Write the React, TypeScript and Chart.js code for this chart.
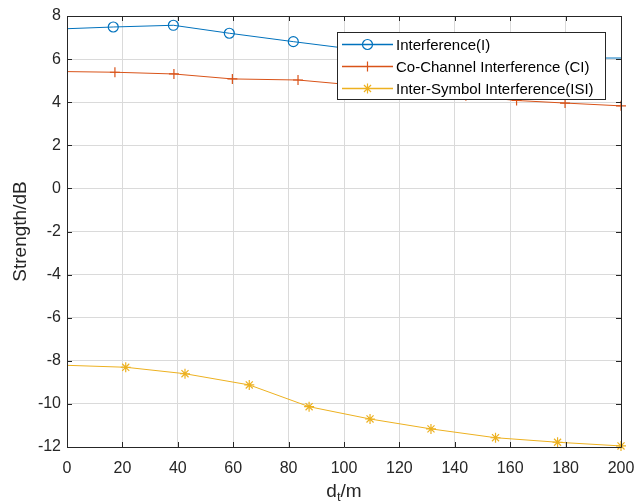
import React, { useEffect, useRef } from "react";
import { Chart, registerables } from "chart.js";

Chart.register(...registerables);

// ---- data ----
const interferenceX = [0, 16.7, 38.4, 58.6, 81.7, 104, 127, 150, 173, 200];
const interferenceY = [7.41, 7.49, 7.57, 7.2, 6.81, 6.45, 6.22, 6.1, 6.05, 6.05];

const coChannelX = [0, 17.3, 38.6, 59.7, 83.4, 105, 125, 144, 162.3, 179.8, 200];
const coChannelY = [5.42, 5.39, 5.31, 5.08, 5.03, 4.78, 4.55, 4.3, 4.08, 3.96, 3.83];

const isiX = [0, 21.2, 42.6, 65.8, 87.4, 109.4, 131.4, 154.7, 177.1, 200];
const isiY = [-8.21, -8.3, -8.6, -9.12, -10.13, -10.7, -11.16, -11.57, -11.78, -11.95];

const seriesNames = [
  "Interference(I)",
  "Co-Channel Interference (CI)",
  "Inter-Symbol Interference(ISI)",
];
const xTickValues = [0, 20, 40, 60, 80, 100, 120, 140, 160, 180, 200];
const yTickValues = [-12, -10, -8, -6, -4, -2, 0, 2, 4, 6, 8];
const yAxisTitle = "Strength/dB";
const xAxisTitleMain = "d";
const xAxisTitleSub = "t";
const xAxisTitleRest = "/m";

const COLORS = ["#0072BD", "#D95319", "#EDB120"];
const STYLES = ["circle", "cross", "star"];
const AXIS = "#262626";
const FONT = "'Liberation Sans', Arial, sans-serif";

function zip(xs: number[], ys: number[]) {
  return xs.map((x, i) => ({ x, y: ys[i] }));
}

function drawMarker(ctx: CanvasRenderingContext2D, style: string, x: number, y: number, r: number, color: string) {
  ctx.save();
  ctx.strokeStyle = color;
  ctx.lineWidth = 1.2;
  ctx.beginPath();
  if (style === "circle") {
    ctx.arc(x, y, r, 0, Math.PI * 2);
  } else if (style === "cross") {
    ctx.moveTo(x - r, y);
    ctx.lineTo(x + r, y);
    ctx.moveTo(x, y - r);
    ctx.lineTo(x, y + r);
  } else {
    ctx.moveTo(x - r, y);
    ctx.lineTo(x + r, y);
    ctx.moveTo(x, y - r);
    ctx.lineTo(x, y + r);
    const d = r * Math.SQRT1_2;
    ctx.moveTo(x - d, y - d);
    ctx.lineTo(x + d, y + d);
    ctx.moveTo(x - d, y + d);
    ctx.lineTo(x + d, y - d);
  }
  ctx.stroke();
  ctx.restore();
}

const framePlugin = {
  id: "matlabFrame",
  afterDatasetsDraw(chart: any) {
    const { ctx, chartArea } = chart;
    const { left, right, top, bottom } = chartArea;
    const xs = chart.scales.x;
    const ys = chart.scales.y;
    ctx.save();
    ctx.strokeStyle = AXIS;
    ctx.lineWidth = 1;
    ctx.beginPath();
    ctx.rect(Math.round(left) + 0.5, Math.round(top) + 0.5, Math.round(right - left), Math.round(bottom - top));
    ctx.stroke();
    const tl = 5;
    ctx.beginPath();
    xTickValues.forEach((v) => {
      const px = Math.round(xs.getPixelForValue(v)) + 0.5;
      ctx.moveTo(px, bottom);
      ctx.lineTo(px, bottom - tl);
      ctx.moveTo(px, top);
      ctx.lineTo(px, top + tl);
    });
    yTickValues.forEach((v) => {
      const py = Math.round(ys.getPixelForValue(v)) + 0.5;
      ctx.moveTo(left, py);
      ctx.lineTo(left + tl, py);
      ctx.moveTo(right, py);
      ctx.lineTo(right - tl, py);
    });
    ctx.stroke();
    ctx.restore();
  },
};

const legendTitlesPlugin = {
  id: "matlabLegendTitles",
  afterDraw(chart: any) {
    const { ctx, chartArea } = chart;
    ctx.save();
    // legend box
    const bx = 337.5, by = 32.5, bw = 268, bh = 67;
    ctx.fillStyle = "#ffffff";
    ctx.fillRect(bx, by, bw, bh);
    ctx.strokeStyle = AXIS;
    ctx.lineWidth = 1;
    ctx.strokeRect(bx, by, bw, bh);
    ctx.font = `15px ${FONT}`;
    ctx.textBaseline = "middle";
    ctx.textAlign = "left";
    seriesNames.forEach((name, i) => {
      const cy = 44.5 + i * 22;
      ctx.strokeStyle = COLORS[i];
      ctx.lineWidth = 1.5;
      ctx.beginPath();
      ctx.moveTo(342, cy);
      ctx.lineTo(393, cy);
      ctx.stroke();
      drawMarker(ctx, STYLES[i], 367.5, cy, 5, COLORS[i]);
      ctx.fillStyle = "#000000";
      ctx.fillText(name, 396, cy + 1);
    });

    // axis titles
    ctx.fillStyle = AXIS;
    ctx.font = `19px ${FONT}`;
    ctx.textAlign = "center";
    ctx.textBaseline = "middle";
    ctx.save();
    ctx.translate(21, (chartArea.top + chartArea.bottom) / 2);
    ctx.rotate(-Math.PI / 2);
    ctx.fillText(yAxisTitle, 0, 0);
    ctx.restore();

    const cx = (chartArea.left + chartArea.right) / 2;
    const baseY = 497;
    ctx.textBaseline = "alphabetic";
    ctx.textAlign = "left";
    ctx.font = `19px ${FONT}`;
    const wMain = ctx.measureText(xAxisTitleMain).width;
    const wRest = ctx.measureText(xAxisTitleRest).width;
    ctx.font = `13px ${FONT}`;
    const wSub = ctx.measureText(xAxisTitleSub).width;
    const total = wMain + wSub + wRest;
    let x0 = cx - total / 2;
    ctx.font = `19px ${FONT}`;
    ctx.fillText(xAxisTitleMain, x0, baseY);
    x0 += wMain;
    ctx.font = `13px ${FONT}`;
    ctx.fillText(xAxisTitleSub, x0, baseY + 4);
    x0 += wSub;
    ctx.font = `19px ${FONT}`;
    ctx.fillText(xAxisTitleRest, x0, baseY);
    ctx.restore();
  },
};

export default function App() {
  const canvasRef = useRef<HTMLCanvasElement | null>(null);

  useEffect(() => {
    const canvas = canvasRef.current;
    if (!canvas) return;
    const mk = (label: string, xs: number[], ys: number[], i: number, hideLast: boolean) => ({
      label,
      data: zip(xs, ys),
      borderColor: COLORS[i],
      backgroundColor: "rgba(0,0,0,0)",
      borderWidth: 1,
      pointStyle: STYLES[i],
      pointBorderColor: COLORS[i],
      pointBackgroundColor: "rgba(0,0,0,0)",
      pointBorderWidth: 1.2,
      pointRadius: (c: any) =>
        c.dataIndex === 0 || (hideLast && c.dataIndex === xs.length - 1) ? 0 : 5,
      pointHoverRadius: 0,
      tension: 0,
      fill: false,
      clip: false,
    });

    const chart = new Chart(canvas, {
      type: "line",
      data: {
        datasets: [
          mk(seriesNames[0], interferenceX, interferenceY, 0, true),
          mk(seriesNames[1], coChannelX, coChannelY, 1, false),
          mk(seriesNames[2], isiX, isiY, 2, false),
        ] as any,
      },
      options: {
        responsive: false,
        animation: false,
        events: [],
        layout: { padding: { top: 16, right: 16, left: 0, bottom: 0 } },
        plugins: {
          legend: { display: false },
          tooltip: { enabled: false },
          title: { display: false },
        },
        scales: {
          x: {
            type: "linear",
            min: 0,
            max: 200,
            afterBuildTicks: (s: any) => {
              s.ticks = xTickValues.map((v) => ({ value: v }));
            },
            afterFit: (s: any) => {
              s.height = 57;
              s.paddingLeft = 0;
              s.paddingRight = 0;
            },
            grid: { color: "#dadada", lineWidth: 1, drawTicks: false },
            border: { display: false },
            ticks: {
              color: AXIS,
              font: { family: FONT, size: 16 },
              padding: 12,
              maxRotation: 0,
              autoSkip: false,
            },
          },
          y: {
            type: "linear",
            min: -12,
            max: 8,
            afterBuildTicks: (s: any) => {
              s.ticks = yTickValues.map((v) => ({ value: v }));
            },
            afterFit: (s: any) => {
              s.width = 67;
              s.paddingTop = 0;
              s.paddingBottom = 0;
            },
            grid: { color: "#dadada", lineWidth: 1, drawTicks: false },
            border: { display: false },
            ticks: {
              color: AXIS,
              font: { family: FONT, size: 16 },
              padding: 6,
              autoSkip: false,
            },
          },
        },
      } as any,
      plugins: [framePlugin, legendTitlesPlugin],
    });
    return () => chart.destroy();
  }, []);

  return (
    <div style={{ position: "fixed", left: 0, top: 0, width: 637, height: 504, background: "#fff" }}>
      <canvas ref={canvasRef} width={637} height={504} style={{ display: "block" }} />
    </div>
  );
}
